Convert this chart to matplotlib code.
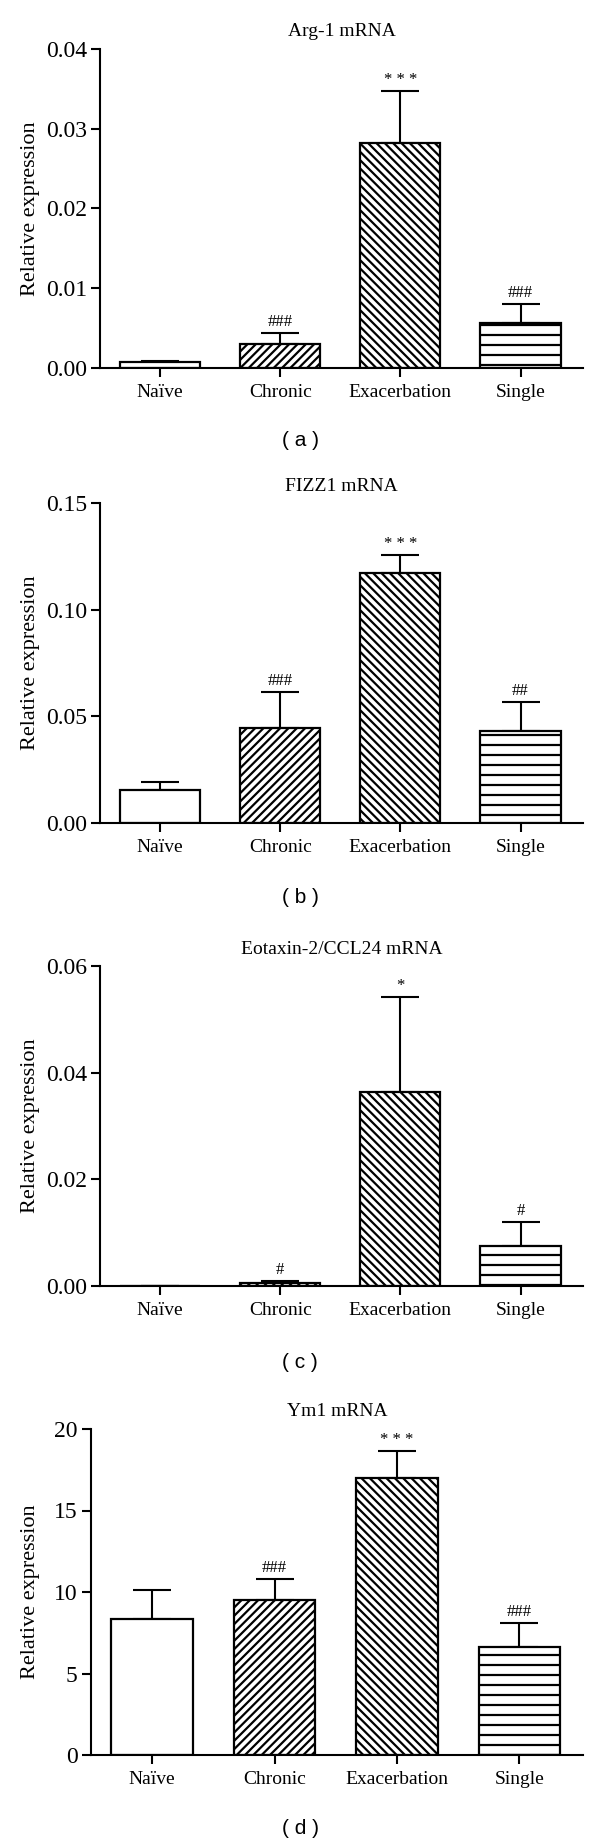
import matplotlib
matplotlib.use("Agg")
import matplotlib.pyplot as plt
import matplotlib.hatch as mhatch
import numpy as np

categories = ["Naïve", "Chronic", "Exacerbation", "Single"]

titles = ["Arg-1 mRNA", "FIZZ1 mRNA", "Eotaxin-2/CCL24 mRNA", "Ym1 mRNA"]
panel_labels = ["( a )", "( b )", "( c )", "( d )"]

arg1_mean = [0.0008, 0.00305, 0.0282, 0.0057]
arg1_err = [0.0001, 0.00135, 0.0065, 0.0023]
arg1_sig = ["", "###", "* * *", "###"]

fizz1_mean = [0.0156, 0.0447, 0.1172, 0.0430]
fizz1_err = [0.0035, 0.0167, 0.0084, 0.0137]
fizz1_sig = ["", "###", "* * *", "##"]

ccl24_mean = [0.00005, 0.00063, 0.0364, 0.0075]
ccl24_err = [0.0, 0.0003, 0.0178, 0.0045]
ccl24_sig = ["", "#", "*", "#"]

ym1_mean = [8.33, 9.52, 16.99, 6.65]
ym1_err = [1.82, 1.29, 1.68, 1.46]
ym1_sig = ["", "###", "* * *", "###"]

ylims = [0.04, 0.15, 0.06, 20]
ysteps = [0.01, 0.05, 0.02, 5]
yfmts = ["{:.2f}", "{:.2f}", "{:.2f}", "{:.0f}"]

means = [arg1_mean, fizz1_mean, ccl24_mean, ym1_mean]
errs = [arg1_err, fizz1_err, ccl24_err, ym1_err]
sigs = [arg1_sig, fizz1_sig, ccl24_sig, ym1_sig]


# slightly wider spacing for the horizontal-line hatch
class _WideHorizontal(mhatch.HorizontalHatch):
    def __init__(self, hatch, density):
        super().__init__(hatch, density)
        self.num_lines = int(round(self.num_lines * 10 / 12))
        self.num_vertices = self.num_lines * 2


mhatch._hatch_types[mhatch._hatch_types.index(mhatch.HorizontalHatch)] = _WideHorizontal

hatches = ["", "////", "\\\\\\\\", "--"]
plt.rcParams["hatch.linewidth"] = 1.6
serif = ["Liberation Serif", "DejaVu Serif"]

W, H = 600, 1844
fig = plt.figure(figsize=(W / 100, H / 100), dpi=100)

# axes boxes in pixels: (left, top, right, bottom)
boxes = [(100, 49, 583, 368), (100, 503, 583, 823), (100, 966, 583, 1286), (91, 1429, 583, 1755)]
label_y = [441, 897, 1362, 1828]

for k in range(4):
    l, t, r, b = boxes[k]
    ax = fig.add_axes([l / W, 1 - b / H, (r - l) / W, (b - t) / H])
    x = np.arange(len(categories))
    bars = ax.bar(x, means[k], width=0.667, color="white", edgecolor="black",
                  linewidth=1.6, zorder=2)
    for bar, h in zip(bars, hatches):
        bar.set_hatch(h)
    ax.errorbar(x, means[k], yerr=[np.zeros(4), errs[k]], fmt="none", ecolor="black",
                elinewidth=1.5, capsize=14, capthick=1.5, zorder=1)
    for i in range(4):
        if sigs[k][i]:
            ax.annotate(sigs[k][i], xy=(x[i], means[k][i] + errs[k][i]), xytext=(0, 2),
                        textcoords="offset points", ha="center", va="bottom",
                        fontsize=12, family=serif)
    ax.set_xlim(-0.5, 3.52)
    ax.set_ylim(0, ylims[k])
    ticks = np.arange(0, ylims[k] + ysteps[k] / 2, ysteps[k])
    ax.set_yticks(ticks)
    ax.set_yticklabels([yfmts[k].format(v) for v in ticks], fontsize=17, family=serif)
    ax.set_xticks(x)
    ax.set_xticklabels(categories, fontsize=14, family=serif)
    for s in ["top", "right"]:
        ax.spines[s].set_visible(False)
    for s in ["left", "bottom"]:
        ax.spines[s].set_linewidth(1.5)
    ax.tick_params(axis="both", direction="out", length=6.5, width=1.5, color="black")
    ax.tick_params(axis="x", pad=5)
    ax.tick_params(axis="y", pad=3)
    ax.set_ylabel("Relative expression", fontsize=16, family=serif)
    ax.yaxis.set_label_coords((40 - l) / (r - l), 0.5)
    ax.set_title(titles[k], fontsize=14, family=serif, pad=9)
    fig.text(0.5, 1 - label_y[k] / H, panel_labels[k], ha="center", va="center",
             fontsize=15, family=["Liberation Sans", "DejaVu Sans"])

fig.savefig("out.png", dpi=100, facecolor="white")
